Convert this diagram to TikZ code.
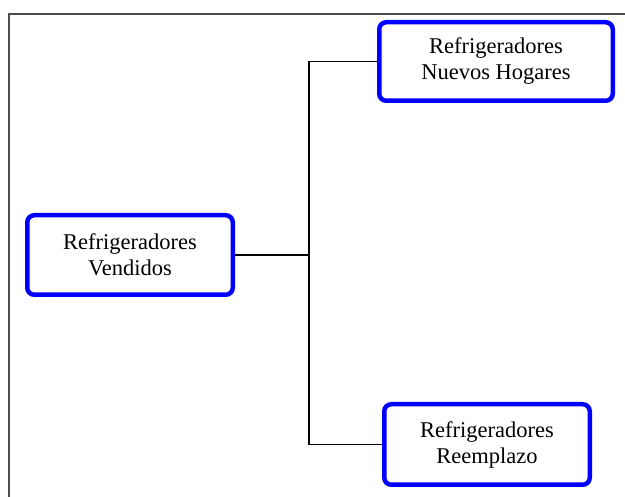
\documentclass[tikz,border=0pt]{standalone}
\usepackage{fontspec}
\setmainfont{Liberation Serif}
\usetikzlibrary{positioning}

\tikzset{
	caja/.style={draw=blue, line width=4.5pt, rounded corners=7pt, fill=white,
		align=center, inner sep=0pt, font=\fontsize{22.5}{26}\selectfont},
	linea/.style={line width=1.3pt, black},
	marco/.style={line width=2pt, black!70}
}

\begin{document}
\begin{tikzpicture}[x=1pt, y=-1pt]
%
\useasboundingbox (0,0) rectangle (625,497);

%Rahmen
\coordinate (origin) at (8.5,14);
\coordinate (mR) at (625,14);
\coordinate (mU) at (8.5,497);

	\draw [marco] (mR) -- (origin) -- (mU);

%Knoten
\node [caja, minimum width=205.5pt, minimum height=79.5pt] (vendidos) at (130,255)
	{Refrigeradores\\Vendidos};
\node [caja, minimum width=233.5pt, minimum height=78.5pt] (nuevos) at (496,61.5)
	{Refrigeradores\\Nuevos Hogares};
\node [caja, minimum width=205.5pt, minimum height=80.5pt] (reemplazo) at (487,444.5)
	{Refrigeradores\\Reemplazo};

%Verbindungen
\coordinate (rama) at (309,255);

	\draw [linea] (vendidos.east) -- (rama);
	\foreach \z in {nuevos,reemplazo}{
		\draw [linea] (rama) |- (\z.west);
	}

\end{tikzpicture}
\end{document}
